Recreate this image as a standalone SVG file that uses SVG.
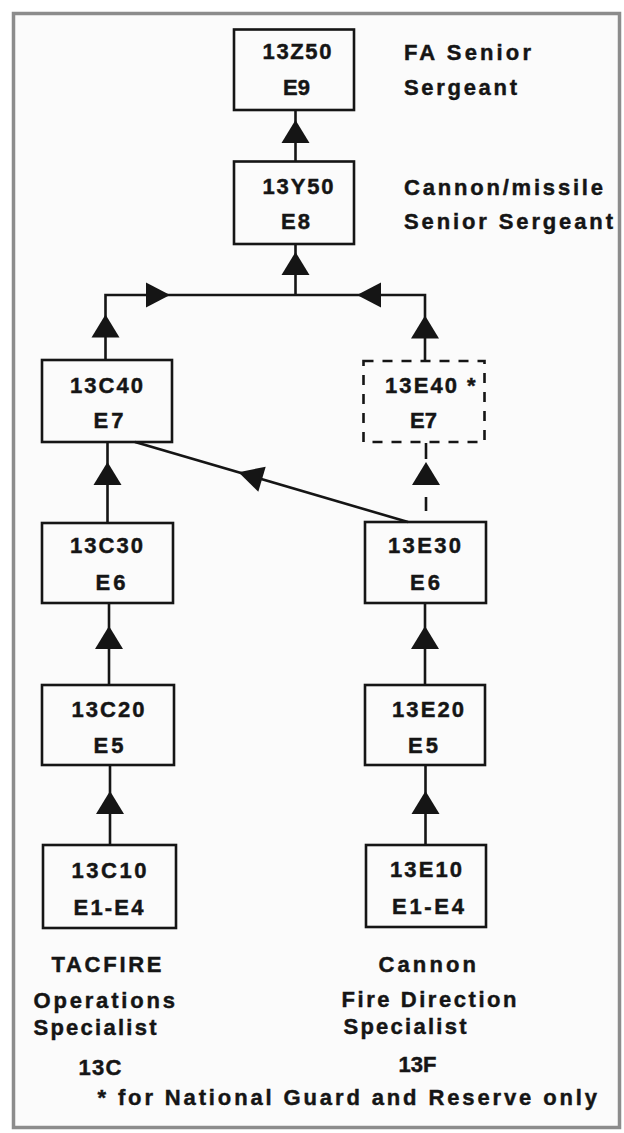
<svg xmlns="http://www.w3.org/2000/svg" xmlns:xlink="http://www.w3.org/1999/xlink" width="624" height="1133" viewBox="0 0 624 1133">
<style>
.box{fill:none;stroke:#151515;stroke-width:2.6}
.dbox{fill:none;stroke:#151515;stroke-width:2.6;stroke-dasharray:10 9}
.ln{fill:none;stroke:#151515;stroke-width:2.6}
.t{font-family:"Liberation Sans",Arial,Helvetica,sans-serif;font-weight:bold;font-size:22px;fill:#151515;stroke:#151515;stroke-width:0.45}
.ah{fill:#151515}
</style>
<defs>
<polygon id="up" points="0,0 -14,23 14,23"/>
</defs>
<rect x="0" y="0" width="624" height="1133" fill="#ffffff"/>
<rect x="13.5" y="13.5" width="606" height="1114" fill="#fbfbfb" stroke="#8c8c8c" stroke-width="3.5"/>

<g id="connectors">
  <line class="ln" x1="295.5" y1="110" x2="295.5" y2="161"/>
  <use href="#up" class="ah" x="295.5" y="120"/>
  <line class="ln" x1="295.5" y1="244" x2="295.5" y2="295"/>
  <use href="#up" class="ah" x="295.5" y="252"/>
  <polyline class="ln" points="105.5,360 105.5,295 425,295 425,361"/>
  <polygon class="ah" points="170,295 146,282.5 146,307.5"/>
  <polygon class="ah" points="357,295 381,282.5 381,307.5"/>
  <use href="#up" class="ah" x="105.5" y="314.5"/>
  <use href="#up" class="ah" x="425" y="315.5"/>
  <line class="ln" x1="135" y1="442" x2="408" y2="522"/>
  <polygon class="ah" points="238.5,472.3 258.3,491.7 265.7,466.7"/>
  <line class="ln" x1="426" y1="443" x2="426" y2="459"/>
  <line class="ln" x1="426" y1="497" x2="426" y2="511"/>
  <use href="#up" class="ah" x="426" y="462"/>
  <line class="ln" x1="107.5" y1="523" x2="107.5" y2="442"/>
  <use href="#up" class="ah" x="107.5" y="462"/>
  <line class="ln" x1="109" y1="685" x2="109" y2="603"/>
  <use href="#up" class="ah" x="109" y="626"/>
  <line class="ln" x1="425" y1="685" x2="425" y2="603"/>
  <use href="#up" class="ah" x="425" y="626"/>
  <line class="ln" x1="110" y1="845" x2="110" y2="765"/>
  <use href="#up" class="ah" x="110" y="791"/>
  <line class="ln" x1="425.5" y1="845" x2="425.5" y2="765"/>
  <use href="#up" class="ah" x="425.5" y="791"/>
</g>

<g id="n-13Z50">
  <rect class="box" x="234" y="29.5" width="120" height="80.5"/>
  <text class="t" x="262.5" y="58.5" textLength="69" lengthAdjust="spacing">13Z50</text>
  <text class="t" x="283" y="95" textLength="27" lengthAdjust="spacing">E9</text>
</g>
<g id="l-13Z50">
  <text class="t" x="404" y="59.5" textLength="127" lengthAdjust="spacing">FA Senior</text>
  <text class="t" x="404" y="95" textLength="113" lengthAdjust="spacing">Sergeant</text>
</g>

<g id="n-13Y50">
  <rect class="box" x="234" y="161.5" width="120" height="82.5"/>
  <text class="t" x="262.5" y="194" textLength="71" lengthAdjust="spacing">13Y50</text>
  <text class="t" x="281" y="229" textLength="29" lengthAdjust="spacing">E8</text>
</g>
<g id="l-13Y50">
  <text class="t" x="404" y="194.5" textLength="199" lengthAdjust="spacing">Cannon/missile</text>
  <text class="t" x="404" y="229" textLength="209" lengthAdjust="spacing">Senior Sergeant</text>
</g>

<g id="n-13C40">
  <rect class="box" x="42" y="360" width="130" height="82"/>
  <text class="t" x="70" y="393" textLength="73" lengthAdjust="spacing">13C40</text>
  <text class="t" x="93.5" y="428" textLength="30" lengthAdjust="spacing">E7</text>
</g>

<g id="n-13E40">
  <rect class="dbox" x="363.5" y="361" width="121" height="81"/>
  <text class="t" x="385" y="393" textLength="72" lengthAdjust="spacing">13E40</text>
  <text class="t" x="467" y="393">*</text>
  <text class="t" x="410" y="428" textLength="27" lengthAdjust="spacing">E7</text>
</g>

<g id="n-13C30">
  <rect class="box" x="42" y="523" width="131" height="80"/>
  <text class="t" x="70" y="553" textLength="73" lengthAdjust="spacing">13C30</text>
  <text class="t" x="95.5" y="590" textLength="30" lengthAdjust="spacing">E6</text>
</g>

<g id="n-13E30">
  <rect class="box" x="365" y="522" width="121" height="81"/>
  <text class="t" x="388" y="553" textLength="73" lengthAdjust="spacing">13E30</text>
  <text class="t" x="410" y="590" textLength="30" lengthAdjust="spacing">E6</text>
</g>

<g id="n-13C20">
  <rect class="box" x="42" y="685" width="132" height="80"/>
  <text class="t" x="71.5" y="717" textLength="73" lengthAdjust="spacing">13C20</text>
  <text class="t" x="93.5" y="753" textLength="30" lengthAdjust="spacing">E5</text>
</g>

<g id="n-13E20">
  <rect class="box" x="365" y="685" width="120" height="80"/>
  <text class="t" x="392" y="717" textLength="72" lengthAdjust="spacing">13E20</text>
  <text class="t" x="408" y="753" textLength="30" lengthAdjust="spacing">E5</text>
</g>

<g id="n-13C10">
  <rect class="box" x="43" y="845" width="133" height="83"/>
  <text class="t" x="71.5" y="878" textLength="75" lengthAdjust="spacing">13C10</text>
  <text class="t" x="73.5" y="915" textLength="70" lengthAdjust="spacing">E1-E4</text>
</g>

<g id="n-13E10">
  <rect class="box" x="366" y="845" width="120" height="82"/>
  <text class="t" x="390" y="877" textLength="72" lengthAdjust="spacing">13E10</text>
  <text class="t" x="392" y="914" textLength="72" lengthAdjust="spacing">E1-E4</text>
</g>

<g id="l-13C">
  <text class="t" x="51.5" y="971.5" textLength="110" lengthAdjust="spacing">TACFIRE</text>
  <text class="t" x="33.5" y="1008" textLength="141.5" lengthAdjust="spacing">Operations</text>
  <text class="t" x="33.5" y="1035" textLength="123" lengthAdjust="spacing">Specialist</text>
  <text class="t" x="78.5" y="1075" textLength="43" lengthAdjust="spacing">13C</text>
</g>

<g id="l-13F">
  <text class="t" x="378.5" y="971.5" textLength="97.5" lengthAdjust="spacing">Cannon</text>
  <text class="t" x="341.5" y="1006.5" textLength="175" lengthAdjust="spacing">Fire Direction</text>
  <text class="t" x="343.5" y="1033.5" textLength="123" lengthAdjust="spacing">Specialist</text>
  <text class="t" x="398.5" y="1071.5" textLength="38" lengthAdjust="spacing">13F</text>
</g>

<g id="footnote">
  <text class="t" x="97.5" y="1105" textLength="499.5" lengthAdjust="spacing">* for National Guard and Reserve only</text>
</g>
</svg>
